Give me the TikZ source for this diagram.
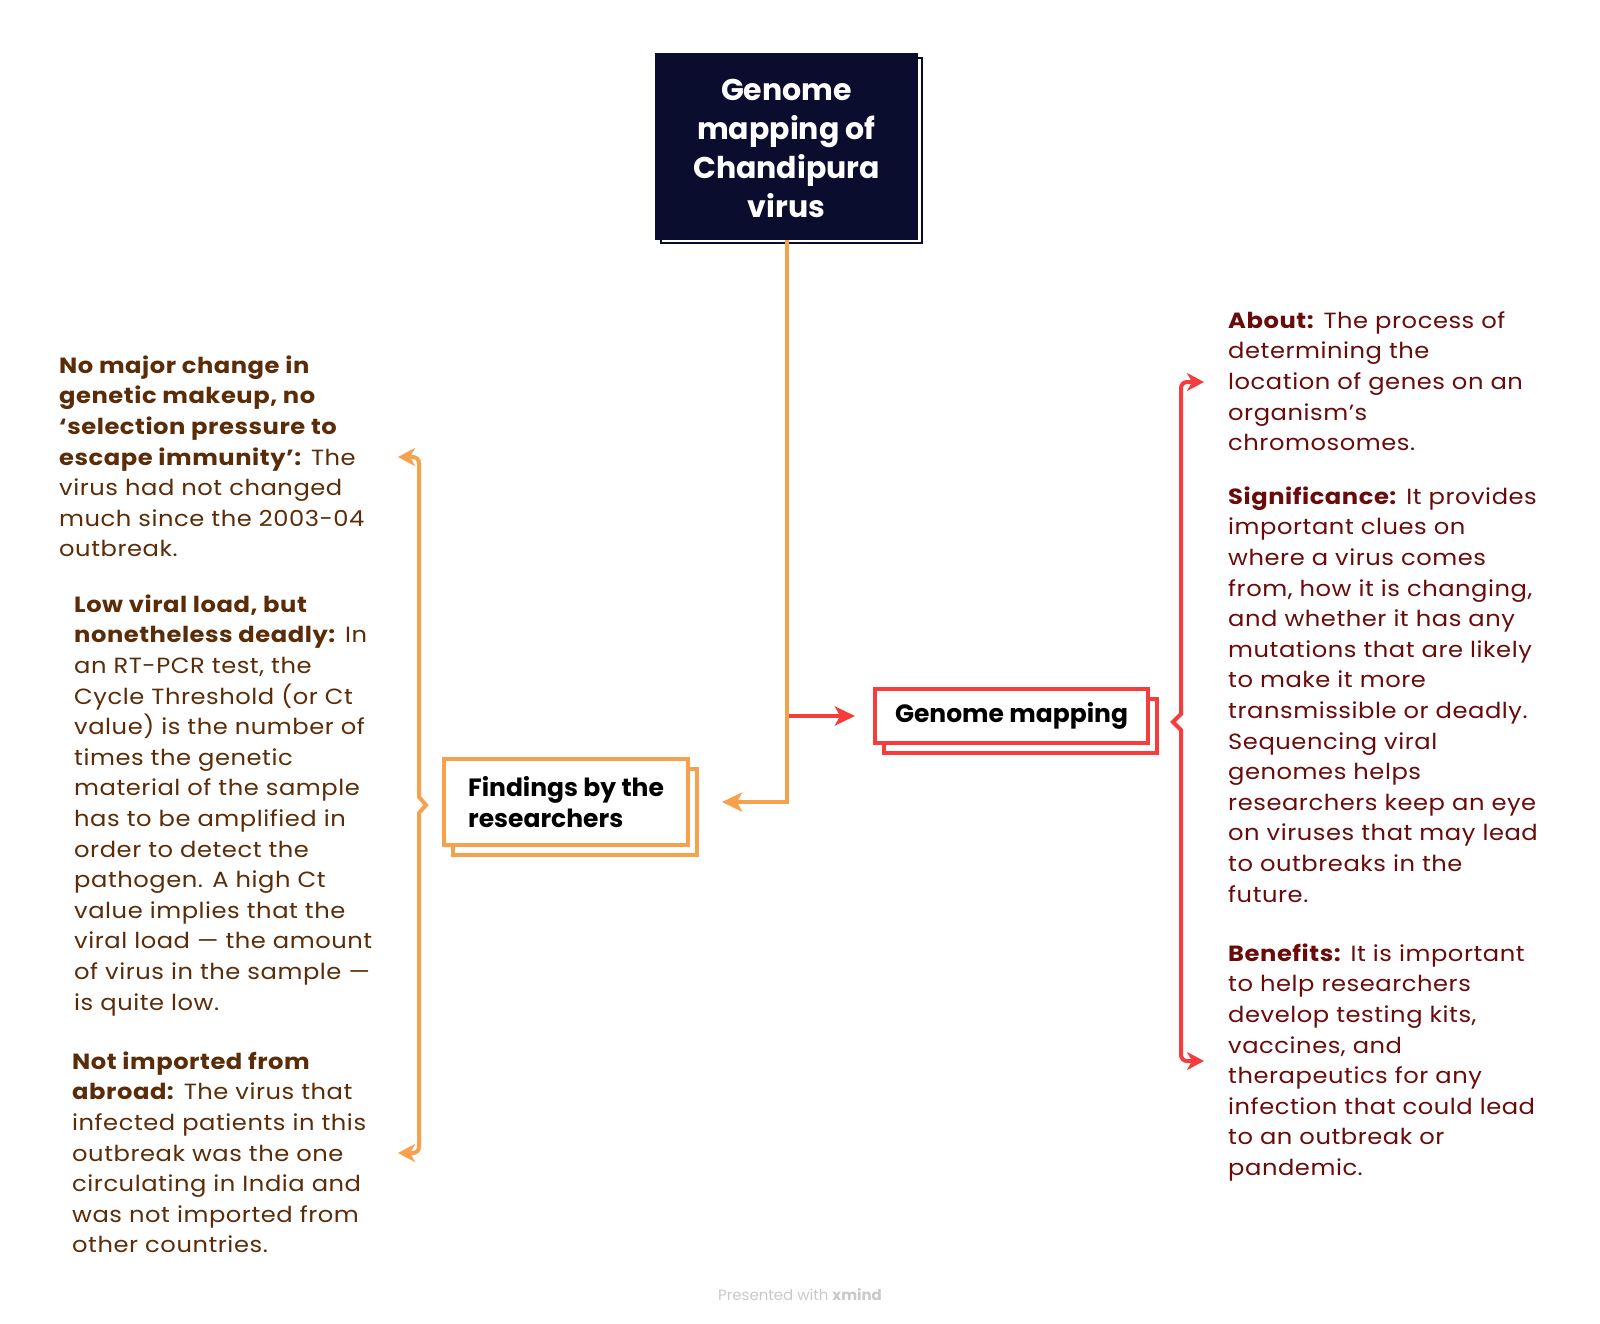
\documentclass[tikz,border=0pt]{standalone}
\usepackage{fontspec}
\setmainfont{Poppins}
\newfontfamily\notefont{Poppins}[FakeStretch=1.1, LetterSpace=2.5]
\usepackage{xcolor}
\usetikzlibrary{arrows.meta,positioning,shadows}
\definecolor{navy}{HTML}{0B0D2F}
\definecolor{tangerine}{HTML}{F7A14D}
\definecolor{scarlet}{HTML}{F53D3D}
\definecolor{umber}{HTML}{5B2C08}
\definecolor{claret}{HTML}{6A0B0B}
\definecolor{bk20}{HTML}{C9C9C9}
\tikzset{
  titlebox/.style={
    rectangle, draw=navy, fill=navy, line width=2pt,
    minimum width=261pt, minimum height=185pt,
    font=\fontsize{30}{39}\selectfont\bfseries, text=white, align=center,
    copy shadow={shadow xshift=5pt, shadow yshift=-4pt, fill=white, draw=navy}
  },
  topicbox/.style={
    rectangle, draw=#1, fill=white, line width=4pt,
    font=\fontsize{25}{30.6}\selectfont\bfseries, align=left,
    inner sep=0pt,
    copy shadow={shadow xshift=9pt, shadow yshift=-10pt, fill=white, draw=#1}
  },
  topicbox/.default=tangerine,
  notetext/.style={
    anchor=north west, inner sep=0pt, align=left, text=#1,
    font=\notefont\fontsize{22}{30.6}\selectfont
  },
  notetext/.default=umber,
  linkline/.style={
    -{Stealth[length=20pt, width=19pt, inset=5pt]}, line width=4pt, color=#1
  },
  linkline/.default=tangerine,
  bracearrow/.style={
    {Stealth[length=17pt, width=18pt, inset=5pt]}-{Stealth[length=17pt, width=18pt, inset=5pt]},
    line width=4pt, color=#1
  },
  bracearrow/.default=tangerine,
}
\begin{document}
\begin{tikzpicture}[x=1pt, y=-1pt]
  \useasboundingbox (0,0) rectangle (1600,1323);
  \node[titlebox] (title) at (786.5,146.5) {\rule{0pt}{25pt}Genome\\mapping of\\Chandipura\\virus};
  \node[topicbox, minimum width=244pt, minimum height=86pt] (find) at (566,802)
    {Findings by the\\researchers};
  \node[topicbox=scarlet, minimum width=273pt, minimum height=54pt] (gmap) at (1011.5,716)
    {Genome mapping};
  \draw[linkline=scarlet] (title.south |- gmap.west) -- ([xshift=-18pt]gmap.west);
  \draw[linkline] (title.south) |- ([xshift=32pt]find.east);

  \node[notetext] (nochange) at (59,351.6)
    {\strut\textbf{No major change in}\\\textbf{genetic makeup, no}\\\textbf{‘selection pressure to}\\\textbf{escape immunity’:} The\\virus had not changed\\much since the 2003-04\\outbreak.};
  \node[notetext] (lowload) at (74,590.6)
    {\strut\textbf{Low viral load, but}\\\textbf{nonetheless deadly:} In\\an RT-PCR test, the\\Cycle Threshold (or Ct\\value) is the number of\\times the genetic\\material of the sample\\has to be amplified in\\order to detect the\\pathogen. A high Ct\\value implies that the\\viral load — the amount\\of virus in the sample —\\is quite low.};
  \node[notetext] (notimported) at (72,1047.6)
    {\strut\textbf{Not imported from}\\\textbf{abroad:} The virus that\\infected patients in this\\outbreak was the one\\circulating in India and\\was not imported from\\other countries.};
  \node[notetext=claret] (about) at (1228,306.6)
    {\strut\textbf{About:} The process of\\determining the\\location of genes on an\\organism’s\\chromosomes.};
  \node[notetext=claret] (signif) at (1228,482.6)
    {\strut\textbf{Significance:} It provides\\important clues on\\where a virus comes\\from, how it is changing,\\and whether it has any\\mutations that are likely\\to make it more\\transmissible or deadly.\\Sequencing viral\\genomes helps\\researchers keep an eye\\on viruses that may lead\\to outbreaks in the\\future.};
  \node[notetext=claret] (benefits) at (1228,939.6)
    {\strut\textbf{Benefits:} It is important\\to help researchers\\develop testing kits,\\vaccines, and\\therapeutics for any\\infection that could lead\\to an outbreak or\\pandemic.};

  \coordinate (lb-top) at (398,457);
  \coordinate (lb-bot) at (398,1153);
  \coordinate (rb-top) at (1204,382);
  \coordinate (rb-bot) at (1204,1061);
  \draw[bracearrow] (lb-top) -- (413,457) to[out=0,in=90] (419,463) -- (419,797)
    -- (426,805) -- (419,813) -- (419,1147) to[out=-90,in=0] (413,1153) -- (lb-bot);
  \draw[bracearrow=scarlet] (rb-top) -- (1187,382) to[out=180,in=90] (1181,388) -- (1181,714)
    -- (1173,722) -- (1181,730) -- (1181,1055) to[out=-90,in=180] (1187,1061) -- (rb-bot);

  \node[font=\fontsize{15}{18}\selectfont, text=bk20] (credit) at (800,1295)
    {Presented with \textbf{xmind}};
\end{tikzpicture}
\end{document}
